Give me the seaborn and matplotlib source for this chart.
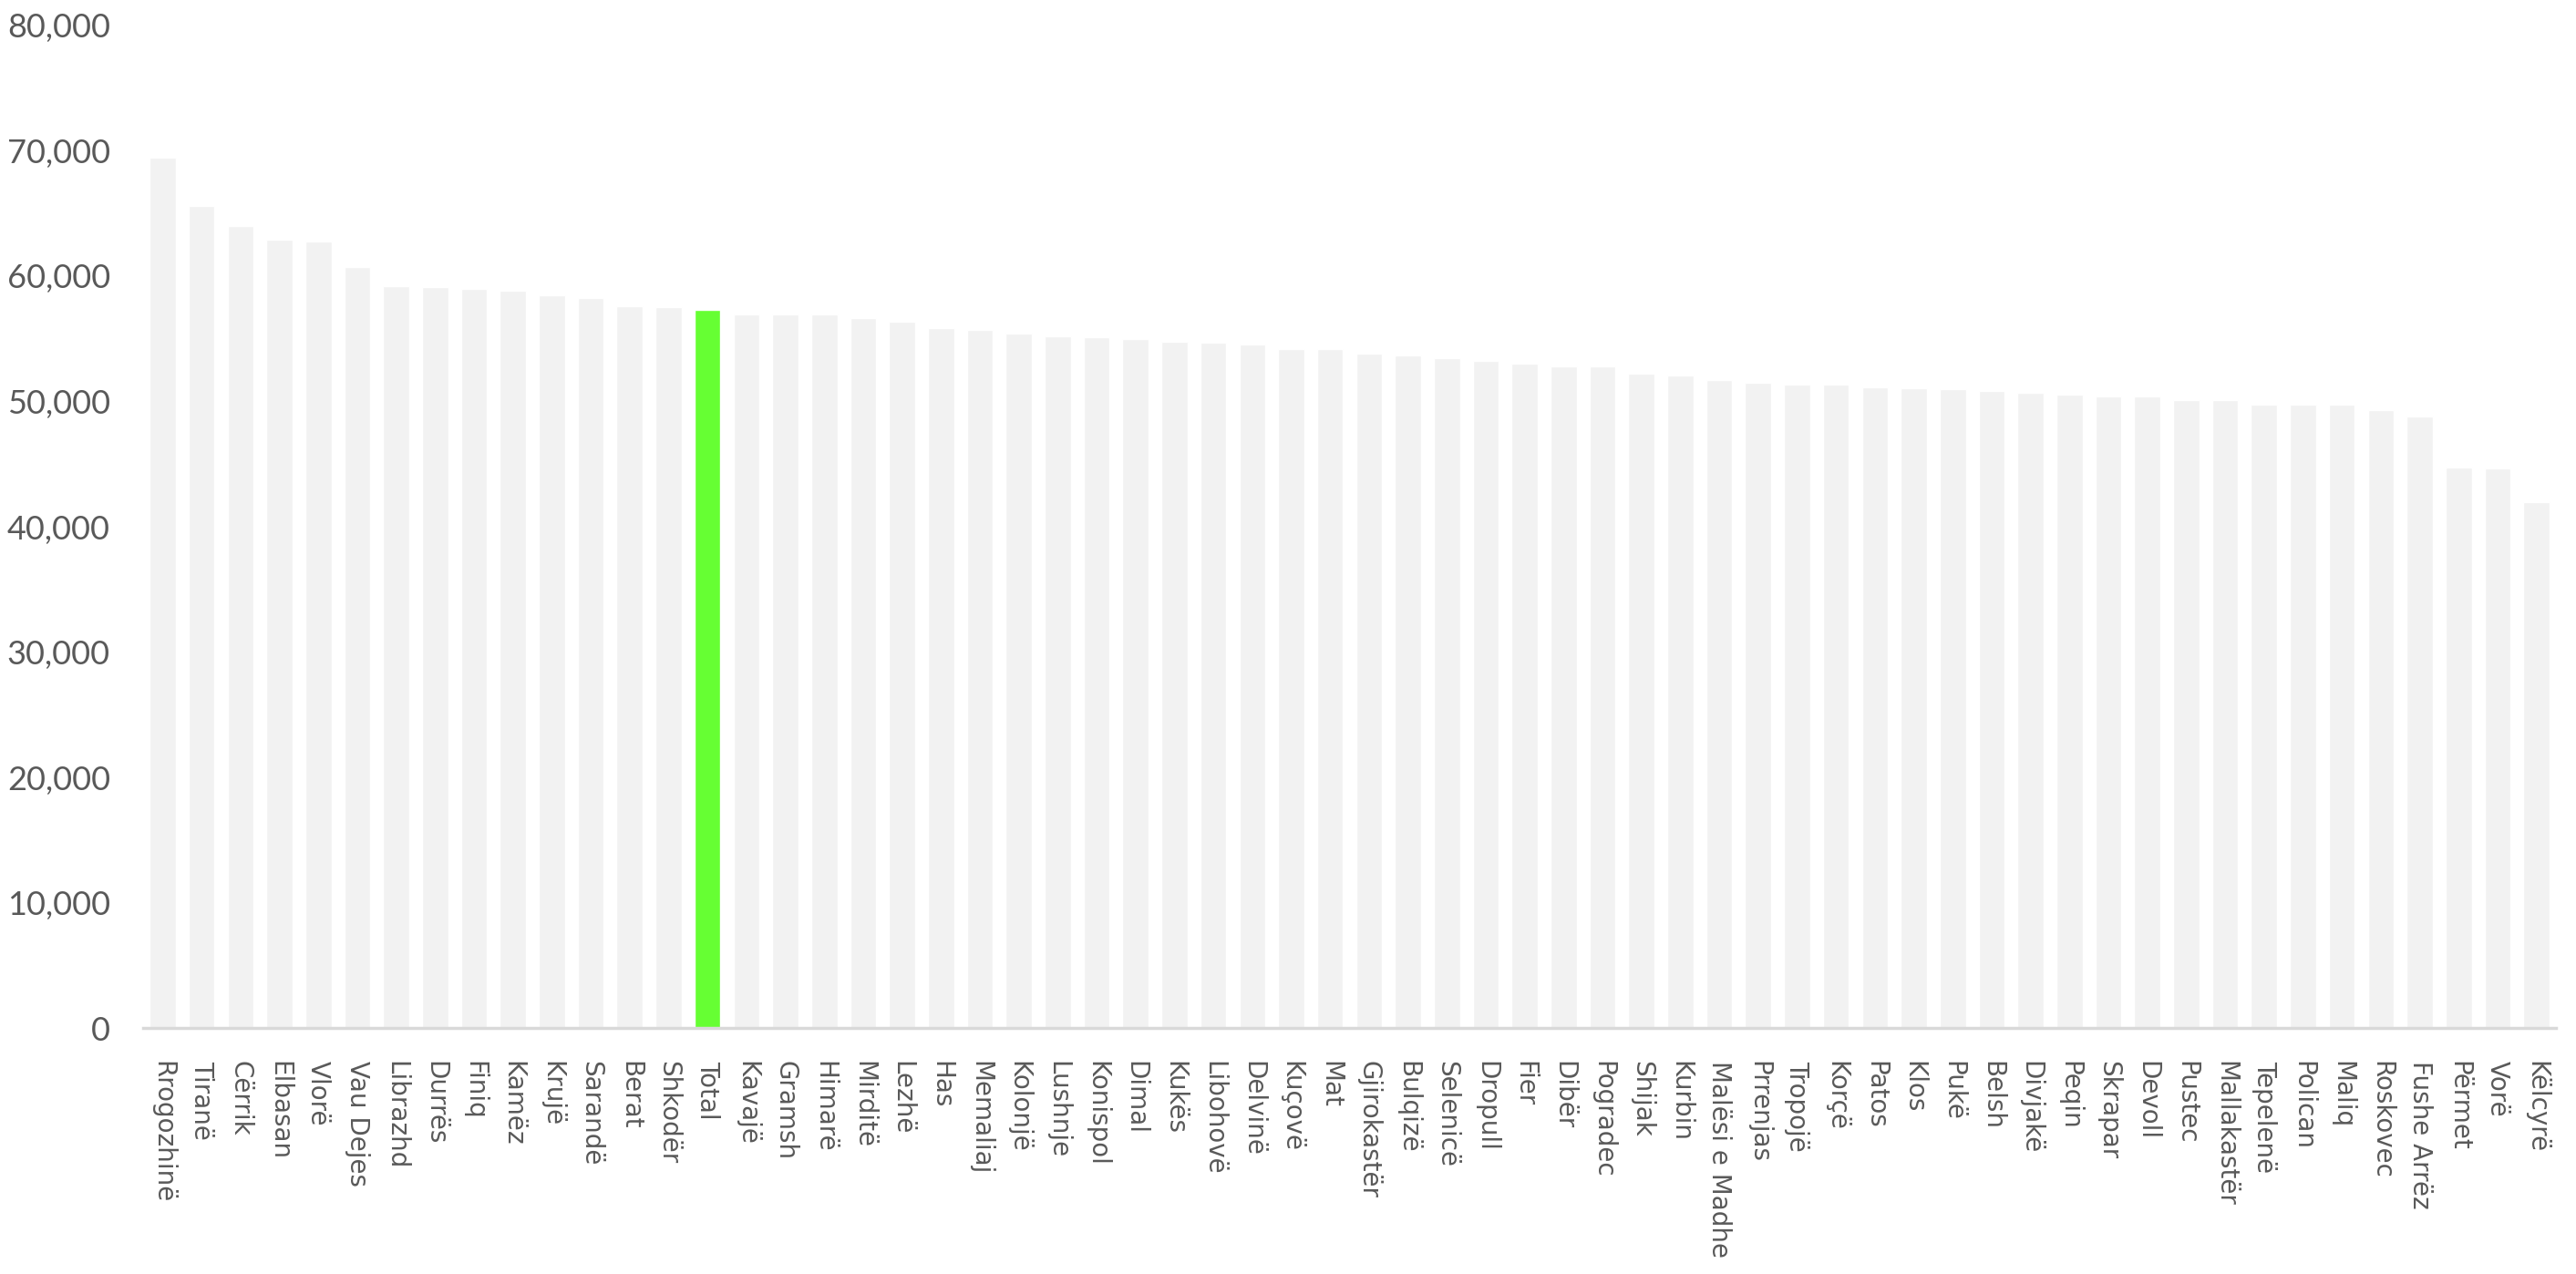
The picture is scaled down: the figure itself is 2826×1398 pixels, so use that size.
import matplotlib
matplotlib.use("Agg")
import matplotlib.pyplot as plt
import matplotlib.ticker as mticker
import seaborn as sns
import pandas as pd

# ---- Data ----
municipalities = [
    "Rrogozhinë", "Tiranë", "Cërrik", "Elbasan", "Vlorë", "Vau Dejes", "Librazhd",
    "Durrës", "Finiq", "Kamëz", "Krujë", "Sarandë", "Berat", "Shkodër", "Total",
    "Kavajë", "Gramsh", "Himarë", "Mirditë", "Lezhë", "Has", "Memaliaj", "Kolonjë",
    "Lushnje", "Konispol", "Dimal", "Kukës", "Libohovë", "Delvinë", "Kuçovë", "Mat",
    "Gjirokastër", "Bulqizë", "Selenicë", "Dropull", "Fier", "Dibër", "Pogradec",
    "Shijak", "Kurbin", "Malësi e Madhe", "Prrenjas", "Tropojë", "Korçë", "Patos",
    "Klos", "Pukë", "Belsh", "Divjakë", "Peqin", "Skrapar", "Devoll", "Pustec",
    "Mallakastër", "Tepelenë", "Polican", "Maliq", "Roskovec", "Fushe Arrëz",
    "Përmet", "Vorë", "Këlcyrë",
]
values = [
    69450, 65580, 64000, 62910, 62760, 60750, 59180,
    59100, 58980, 58820, 58470, 58230, 57600, 57500, 57310,
    56980, 56960, 56940, 56660, 56360, 55860, 55710, 55440,
    55200, 55150, 55000, 54760, 54690, 54550, 54180, 54180,
    53820, 53670, 53430, 53240, 53020, 52800, 52800,
    52200, 52070, 51710, 51490, 51350, 51320, 51130,
    51030, 50980, 50840, 50690, 50550, 50400, 50400, 50110,
    50080, 49770, 49770, 49750, 49310, 48800,
    44730, 44660, 41990,
]
highlight = "Total"
y_ticks = [0, 10000, 20000, 30000, 40000, 50000, 60000, 70000, 80000]

BAR_COLOR = "#f2f2f2"
HIGHLIGHT_COLOR = "#66ff33"
TEXT_COLOR = "#595959"

df = pd.DataFrame({"Municipality": municipalities, "Value": values})
palette = {m: (HIGHLIGHT_COLOR if m == highlight else BAR_COLOR) for m in municipalities}

sns.set_style("white")

fig = plt.figure(figsize=(28.26, 13.98), dpi=100)
ax = fig.add_axes([0.0556, 0.1931, 0.9366, 0.7869])

sns.barplot(data=df, x="Municipality", y="Value", hue="Municipality",
            palette=palette, legend=False, width=0.67, saturation=1,
            ax=ax)

ax.set_xlim(-0.5, len(municipalities) - 0.5)
ax.set_ylim(0, 80000)
ax.set_yticks(y_ticks)
ax.yaxis.set_major_formatter(mticker.FuncFormatter(lambda v, _: f"{int(v):,}"))
ax.set_xlabel("")
ax.set_ylabel("")

for side in ["top", "right", "left"]:
    ax.spines[side].set_visible(False)
ax.spines["bottom"].set_color("#d9d9d9")
ax.spines["bottom"].set_linewidth(2.5)

ax.tick_params(axis="both", length=0)
ax.tick_params(axis="y", pad=26)
ax.tick_params(axis="x", pad=26)

for lbl in ax.get_yticklabels():
    lbl.set_fontfamily(["Lato", "DejaVu Sans"])
    lbl.set_fontsize(26)
    lbl.set_color(TEXT_COLOR)

for lbl in ax.get_xticklabels():
    lbl.set_rotation(-90)
    lbl.set_fontfamily("DejaVu Sans")
    lbl.set_fontsize(20)
    lbl.set_color(TEXT_COLOR)
    lbl.set_ha("center")
    lbl.set_va("top")

fig.savefig("out.png", dpi=100, facecolor="white")
plt.close(fig)
